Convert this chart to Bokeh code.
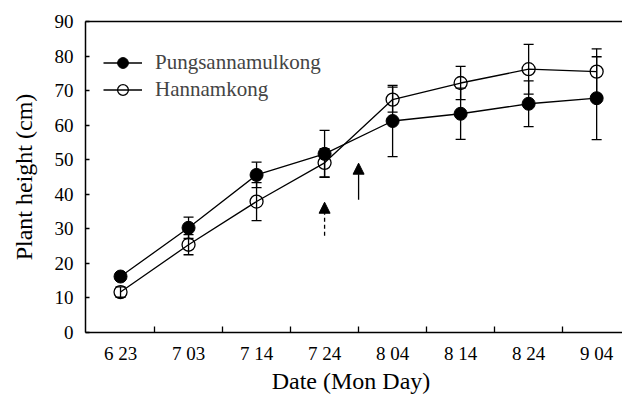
from bokeh.plotting import figure
from bokeh.models import (ColumnDataSource, Whisker, TeeHead, Range1d, FixedTicker,
                          LinearAxis, Arrow, NormalHead, Legend)
from bokeh.embed import file_html
from bokeh.resources import INLINE

# ---- data ----
dates = ["6 23", "7 03", "7 14", "7 24", "8 04", "8 14", "8 24", "9 04"]
pung_mean = [16.2, 30.3, 45.6, 51.7, 61.2, 63.3, 66.2, 67.8]
pung_sd = [1.0, 3.1, 3.7, 6.8, 10.3, 7.4, 6.6, 12.0]
hann_mean = [11.7, 25.4, 37.9, 49.1, 67.4, 72.2, 76.2, 75.5]
hann_sd = [1.5, 2.9, 5.5, 4.1, 3.6, 4.8, 7.2, 6.6]
y_ticks = [0, 10, 20, 30, 40, 50, 60, 70, 80, 90]
# arrows: position on date axis (index), tail and tip heights
arrow_x = [3.0, 3.5]
arrow_tail = [28.0, 38.4]
arrow_tip = [37.7, 49.0]
arrow_dash = ["4 3", "solid"]

FONT = "Liberation Serif"
x = list(range(len(dates)))

p = figure(width=622, height=396, output_backend="svg", toolbar_location=None,
           x_range=Range1d(-0.515, 7.38), y_range=Range1d(0, 90),
           min_border_left=85, min_border_right=0, min_border_top=21, min_border_bottom=64)
p.background_fill_color = "white"
p.border_fill_color = "white"
p.outline_line_color = None
p.grid.visible = False

def make_src(mean, sd):
    return ColumnDataSource(dict(x=x, y=mean,
                                 upper=[m + s for m, s in zip(mean, sd)],
                                 lower=[m - s for m, s in zip(mean, sd)]))

src_p = make_src(pung_mean, pung_sd)
src_h = make_src(hann_mean, hann_sd)

for src in (src_p, src_h):
    w = Whisker(base="x", upper="upper", lower="lower", source=src, dimension="height",
                line_color="black", line_width=1.3,
                upper_head=TeeHead(size=10, line_width=1.3, line_color="black"),
                lower_head=TeeHead(size=10, line_width=1.3, line_color="black"))
    p.add_layout(w)

lp = p.line("x", "y", source=src_p, line_color="black", line_width=1.3)
sp = p.scatter("x", "y", source=src_p, size=13, fill_color="black", line_color="black")
lh = p.line("x", "y", source=src_h, line_color="black", line_width=1.3)
sh = p.scatter("x", "y", source=src_h, size=13, fill_alpha=0, line_color="black", line_width=1.3)

for ax, t0, t1, d in zip(arrow_x, arrow_tail, arrow_tip, arrow_dash):
    p.add_layout(Arrow(x_start=ax, y_start=t0, x_end=ax, y_end=t1,
                       line_color="black", line_width=1.3, line_dash=d,
                       end=NormalHead(size=11, fill_color="black", line_color="black", line_width=1)))

legend = Legend(items=[("Pungsannamulkong", [lp, sp]), ("Hannamkong", [lh, sh])],
                location=(18, 229), border_line_color=None, background_fill_alpha=0,
                label_text_font=FONT, label_text_font_size="21px",
                glyph_width=39, glyph_height=27, label_height=27, spacing=0,
                padding=0, margin=0, label_standoff=13)
p.add_layout(legend)

# axes
xa = p.xaxis[0]
xa.ticker = FixedTicker(ticks=x, minor_ticks=[i + 0.5 for i in x[:-1]])
xa.major_label_overrides = {i: d for i, d in enumerate(dates)}
xa.major_tick_in = 0
xa.major_tick_out = 0
xa.minor_tick_in = 6
xa.minor_tick_out = 0
xa.major_label_standoff = 10
xa.axis_label = "Date (Mon  Day)"
xa.axis_label_standoff = 1
ya = p.yaxis[0]
ya.ticker = FixedTicker(ticks=y_ticks)
ya.minor_tick_line_color = None
ya.major_tick_in = 4
ya.major_tick_out = 0
ya.major_label_standoff = 12
ya.axis_label = "Plant height (cm)"
ya.axis_label_standoff = 15
for a in (xa, ya):
    a.axis_line_width = 1.5
    a.major_tick_line_width = 1.3
    a.minor_tick_line_width = 1.3
    a.major_label_text_font = FONT
    a.major_label_text_font_size = "19px"
    a.axis_label_text_font = FONT
    a.axis_label_text_font_size = "24px"
    a.axis_label_text_font_style = "normal"
    a.major_label_text_color = "black"
    a.axis_label_text_color = "black"

top = LinearAxis(ticker=FixedTicker(ticks=[]), major_label_text_font_size="0px",
                 major_tick_in=0, major_tick_out=0, minor_tick_line_color=None,
                 axis_line_width=1.5)
p.add_layout(top, "above")

open("out.html", "w").write(file_html(p, INLINE))
